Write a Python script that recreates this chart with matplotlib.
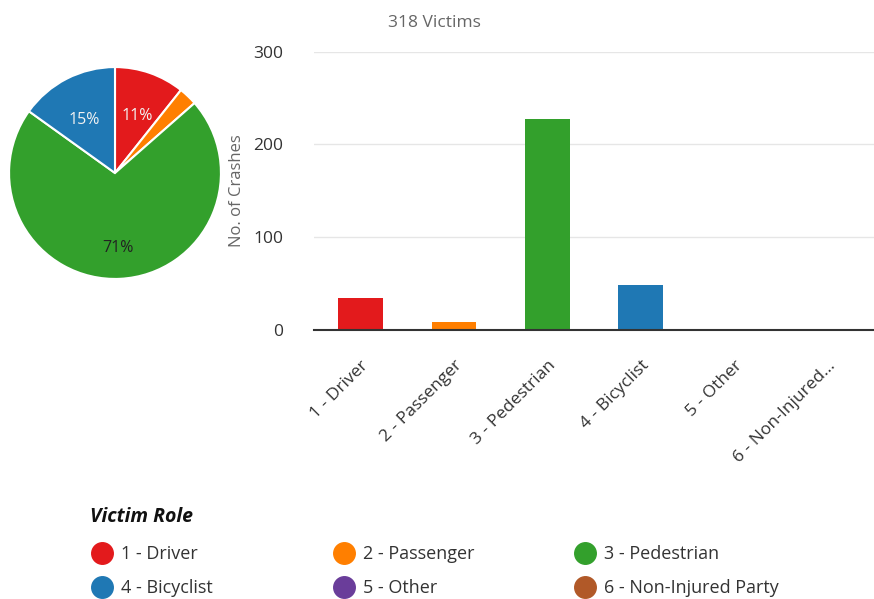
import matplotlib.pyplot as plt
from matplotlib.transforms import ScaledTranslation

plt.rcParams['font.family'] = ['Open Sans', 'DejaVu Sans']

roles = ["1 - Driver", "2 - Passenger", "3 - Pedestrian", "4 - Bicyclist",
         "5 - Other", "6 - Non-Injured Party"]
tick_labels = ["1 - Driver", "2 - Passenger", "3 - Pedestrian", "4 - Bicyclist",
               "5 - Other", "6 - Non-Injured..."]
crashes = [34, 9, 227, 48, 0, 0]
colors = ["#e31a1c", "#ff7f00", "#33a02c", "#1f78b4", "#6a3d9a", "#b15928"]
total_label = "318 Victims"

W, H = 874, 599
fig = plt.figure(figsize=(W / 100, H / 100), dpi=100)


def px_axes(x0, y0, x1, y1):
    # axes from pixel box (top-left origin)
    return fig.add_axes([x0 / W, 1 - y1 / H, (x1 - x0) / W, (y1 - y0) / H])


# pie of non-zero roles
ax_pie = px_axes(8, 66, 222, 280)
pie_vals = [v for v in crashes if v > 0]
pie_cols = [c for v, c in zip(crashes, colors) if v > 0]


def pct_fmt(p):
    return f"{p:.0f}%" if p >= 5 else ""


wedges, texts, autotexts = ax_pie.pie(
    pie_vals, colors=pie_cols, startangle=90, counterclock=False,
    autopct=pct_fmt, pctdistance=0.64,
    wedgeprops=dict(edgecolor="white", linewidth=1.5),
    textprops=dict(fontsize=11.5))
for t, c in zip(autotexts, pie_cols):
    t.set_color("#222222" if c == "#33a02c" else "#f2f2f2")
    px, py = t.get_position()
    t.set_position((px, py - 0.065))
ax_pie.set_aspect("equal")
ax_pie.set_xlim(-1.01, 1.01)
ax_pie.set_ylim(-1.01, 1.01)

# bar chart
ax = px_axes(314, 51.7, 874, 330)
x = range(len(crashes))
ax.bar(x, crashes, width=0.48, color=colors, zorder=3)
ax.set_xlim(-0.5, len(crashes) - 0.5)
ax.set_ylim(0, 300)
ax.set_yticks([0, 100, 200, 300])
ax.set_xticks(list(x))
ax.set_xticklabels(tick_labels, rotation=45, ha="right", rotation_mode="anchor",
                   fontsize=12.5, color="#333333")
shift = ScaledTranslation(-6 / 100, 0, fig.dpi_scale_trans)
for lab in ax.get_xticklabels():
    lab.set_transform(lab.get_transform() + shift)
ax.tick_params(axis="y", length=0, labelsize=12.5, labelcolor="#333333", pad=22)
ax.tick_params(axis="x", length=0, pad=20)
ax.grid(axis="y", color="#e6e6e6", linewidth=1, zorder=0)
for s in ["top", "right", "left"]:
    ax.spines[s].set_visible(False)
ax.spines["bottom"].set_color("#333333")
ax.spines["bottom"].set_linewidth(1.5)
ax.spines["bottom"].set_zorder(4)
ax.set_ylabel("No. of Crashes", fontsize=12, color="#666666", labelpad=6)
ax.set_title(total_label, fontsize=12.5, color="#666666", x=0.215, pad=18)

# legend
ax_leg = px_axes(0, 0, W, H)
ax_leg.set_xlim(0, W)
ax_leg.set_ylim(H, 0)
ax_leg.axis("off")
ax_leg.text(90, 517, "Victim Role", fontsize=14, fontweight="bold",
            fontstyle="italic", va="center", ha="left", color="#111111")
col_x = [102, 344, 585]
row_y = [553, 587]
for i, (name, c) in enumerate(zip(roles, colors)):
    cx = col_x[i % 3]
    cy = row_y[i // 3]
    ax_leg.plot(cx, cy, "o", markersize=15.5, color=c)
    ax_leg.text(cx + 19, cy + 1, name, fontsize=13, color="#333333",
                va="center", ha="left")

fig.savefig("out.png", dpi=100)
